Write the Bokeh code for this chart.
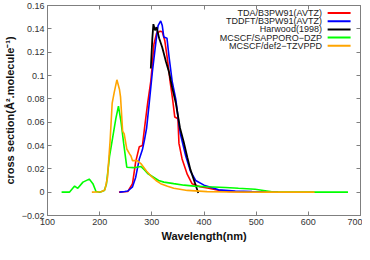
from bokeh.plotting import figure
from bokeh.models import LinearAxis, FixedTicker, Label, BoxAnnotation, Range1d, CustomJSTickFormatter
from bokeh.embed import file_html
from bokeh.resources import INLINE

# ---- data ----
tda_x = [237, 248, 254, 263, 269, 276, 282, 286, 292, 298, 301, 304, 309, 316, 320, 325, 330, 335, 340, 344, 350, 352, 358, 368, 377, 392, 409, 430, 447, 504]
tda_y = [0, 0.0003, 0.0006, 0.0073, 0.026, 0.039, 0.040, 0.055, 0.0763, 0.095, 0.1096, 0.1268, 0.136, 0.138, 0.1375, 0.1295, 0.1136, 0.095, 0.079, 0.0644, 0.063, 0.0418, 0.0285, 0.0152, 0.0073, 0.0046, 0.0033, 0.0015, 0.0006, 0]

tddft_x = [238, 248, 254, 263, 269, 276, 282, 286, 290, 295, 301, 308, 312, 317, 320, 323, 329, 333, 339, 346, 352, 355, 365, 374, 384, 400, 428, 460, 492, 542]
tddft_y = [0, 0.0006, 0.001, 0.0046, 0.0126, 0.0285, 0.0365, 0.045, 0.055, 0.0763, 0.103, 0.1295, 0.1428, 0.1468, 0.1428, 0.133, 0.132, 0.116, 0.095, 0.0795, 0.058, 0.0494, 0.031, 0.018, 0.010, 0.006, 0.002, 0.001, 0.0006, 0]

harwood_x = [298, 301, 303, 306, 309, 314, 320, 327, 333, 339, 346, 354, 361, 368, 374, 381, 386, 389]
harwood_y = [0.106, 0.132, 0.144, 0.1388, 0.1414, 0.132, 0.124, 0.112, 0.1028, 0.0896, 0.0763, 0.0551, 0.0432, 0.0299, 0.0193, 0.010, 0.0033, -0.0007]

sapporo_x = [127, 142, 152, 158, 168, 180, 187, 193, 200, 209, 213, 219, 225, 231, 236, 241, 246, 252, 265, 279, 286, 292, 304, 313, 323, 342, 362, 381, 406, 441, 466, 498, 530, 560, 620, 676]
sapporo_y = [0, 0, 0.0052, 0.0033, 0.0086, 0.0112, 0.0073, 0.0006, 0, 0.0014, 0.007, 0.031, 0.047, 0.063, 0.0737, 0.060, 0.0418, 0.0214, 0.021, 0.022, 0.019, 0.016, 0.0126, 0.010, 0.0086, 0.0073, 0.006, 0.0052, 0.0046, 0.004, 0.0033, 0.0025, 0.0003, 0, 0, 0]

def2_x = [185, 203, 210, 215, 220, 224, 228, 233, 238, 240, 244, 247, 252, 257, 260, 263, 272, 280, 290, 298, 308, 317, 330, 342, 368, 406, 450, 500, 612]
def2_y = [0, 0.0003, 0.002, 0.0126, 0.044, 0.0764, 0.0857, 0.0963, 0.088, 0.0817, 0.0524, 0.05, 0.037, 0.033, 0.031, 0.027, 0.027, 0.024, 0.018, 0.014, 0.010, 0.0073, 0.005, 0.0033, 0.0015, 0.0005, 0.0002, 0, 0]

series_names = ["TDA/B3PW91(AVTZ)", "TDDFT/B3PW91(AVTZ)", "Harwood(1998)", "MCSCF/SAPPORO\u2212DZP", "MCSCF/def2\u2212TZVPPD"]
series_colors = ["#ff0000", "#0000ff", "#000000", "#00ff00", "#ffa500"]

x_ticks = [100, 200, 300, 400, 500, 600, 700]
x_tick_labels = ["100", "200", "300", "400", "500", "600", "700"]
y_ticks = [-0.02, 0, 0.02, 0.04, 0.06, 0.08, 0.1, 0.12, 0.14, 0.16]
y_tick_labels = ["\u22120.02", "0", "0.02", "0.04", "0.06", "0.08", "0.1", "0.12", "0.14", "0.16"]

FONT = "Liberation Sans"
GREY = "#7f7f7f"
FW, FH = 313, 210

p = figure(frame_width=FW, frame_height=FH, x_range=Range1d(100, 700), y_range=Range1d(-0.02, 0.16),
           output_backend="svg", toolbar_location=None,
           min_border_left=6, min_border_right=2, min_border_top=5, min_border_bottom=1)
p.xgrid.visible = False
p.ygrid.visible = False
p.outline_line_color = GREY
p.outline_line_width = 1
p.background_fill_color = "white"
p.border_fill_color = "white"

def style_axis(ax, labels=True):
    ax.axis_line_color = GREY
    ax.major_tick_line_color = GREY
    ax.minor_tick_line_color = None
    ax.major_tick_in = 4
    ax.major_tick_out = 0
    ax.major_label_text_font = FONT
    ax.major_label_text_font_size = "9px"
    ax.major_label_text_color = "#333333"
    ax.major_label_standoff = 3 if labels else 0
    ax.axis_label_text_font = FONT
    ax.axis_label_text_font_size = "11px"
    ax.axis_label_text_font_style = "bold"
    ax.axis_label_text_color = "#111111"
    ax.axis_label_standoff = 2

xa = p.xaxis[0]
xa.ticker = FixedTicker(ticks=x_ticks)
xa.major_label_overrides = {t: s for t, s in zip(x_ticks, x_tick_labels)}
xa.axis_label = "Wavelength(nm)"
style_axis(xa)

ya = p.yaxis[0]
ya.ticker = FixedTicker(ticks=y_ticks)
ya.major_label_overrides = {t: s for t, s in zip(y_ticks, y_tick_labels)}
ya.axis_label = "cross section(\u00c5\u00b2.molecule\u207b\u00b9)"
style_axis(ya)
ya.axis_label_standoff = 3

blank = CustomJSTickFormatter(code="return ''")
top = LinearAxis(ticker=FixedTicker(ticks=x_ticks), formatter=blank)
style_axis(top, labels=False)
p.add_layout(top, "above")
right = LinearAxis(ticker=FixedTicker(ticks=y_ticks), formatter=blank)
style_axis(right, labels=False)
p.add_layout(right, "right")

all_x = [tda_x, tddft_x, harwood_x, sapporo_x, def2_x]
all_y = [tda_y, tddft_y, harwood_y, sapporo_y, def2_y]
widths = [1.6, 1.6, 1.8, 1.6, 1.6]
for xs, ys, c, w in zip(all_x, all_y, series_colors, widths):
    p.line(xs, ys, line_color=c, line_width=w)

# gnuplot-style legend: label right-aligned, sample line to the right
for i, (name, c) in enumerate(zip(series_names, series_colors)):
    sy = FH - (7.5 + 8.2 * i)
    p.add_layout(Label(x=626, y=sy, x_units="data", y_units="screen", text=name,
                       text_font=FONT, text_font_size="9px", text_align="right",
                       text_baseline="middle", text_color="#222222"))
    p.add_layout(BoxAnnotation(left=637, right=681, top=sy + 1, bottom=sy - 1,
                               top_units="screen", bottom_units="screen",
                               fill_color=c, fill_alpha=1, line_color=None))

open("out.html", "w").write(file_html(p, INLINE))
